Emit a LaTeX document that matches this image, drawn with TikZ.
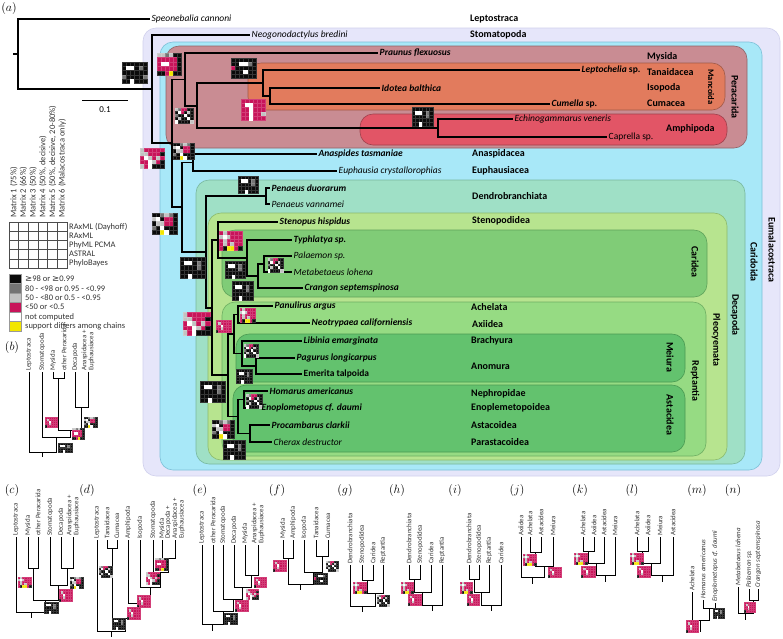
\documentclass[tikz,border=0pt]{standalone}
\usepackage{fontspec}
\setmainfont{Carlito}
\newfontfamily\symf{DejaVu Sans}
\definecolor{cK}{HTML}{0A0A0A}
\definecolor{cD}{HTML}{747474}
\definecolor{cL}{HTML}{C2C2C2}
\definecolor{cM}{HTML}{C8145A}
\definecolor{cW}{HTML}{FFFFFF}
\definecolor{cY}{HTML}{F2E600}
\def\pB{K,K,K,K,K,K,K,W,W,K,D,K,K,K,K,K,D,K,K,K,K,K,K,K,K,K,W,K,K,K}
\def\pBB{K,K,K,K,K,K,K,W,W,K,D,K,K,K,K,K,K,K,D,K,K,K,K,D,K,K,W,K,K,K}
\def\pBm{K,K,K,K,K,K,K,K,W,W,D,K,M,K,K,K,K,K,K,K,K,W,K,K,K,K,K,K,K,K}
\def\pM{L,L,D,L,K,K,M,M,M,M,M,K,M,W,W,M,M,K,M,M,M,M,M,K,K,K,M,Y,K,K}
\def\pMs{M,M,M,M,M,M,M,L,M,M,M,M,M,M,W,M,M,M,M,M,L,M,M,M,K,M,M,M,M,M}
\def\pMz{M,M,M,M,M,M,M,W,W,M,M,M,M,M,W,M,M,M,M,M,W,M,M,L,M,M,W,M,M,M}
\def\pXa{L,D,M,M,K,K,K,W,M,K,L,K,D,K,K,W,K,K,K,L,K,K,W,K,W,K,K,K,K,L}
\def\pXb{K,K,D,L,D,K,L,W,K,M,M,K,K,L,L,M,M,K,D,K,W,K,K,K,K,K,Y,W,K,K}
\def\pMg{M,L,M,M,M,M,L,W,L,M,M,M,M,L,M,M,M,M,M,L,M,L,M,M,M,K,Y,Y,M,K}
\def\pMw{L,M,M,M,M,M,L,L,M,M,M,K,M,W,L,M,L,M,M,M,W,L,M,K,L,M,W,K,K,K}
\newcommand\supbox[5]{%
  \foreach \c [count=\i from 0] in #5 {%
    \pgfmathtruncatemacro\sbcol{mod(\i,6)}%
    \pgfmathtruncatemacro\sbrow{int(\i/6)}%
    \filldraw[fill=c\c, draw=c\c!82!white, line width=0.2pt]
      ({#1+\sbcol*#3/6},{#2+\sbrow*#4/5}) rectangle ({#1+(\sbcol+1)*#3/6},{#2+(\sbrow+1)*#4/5});
  }%
}
\tikzset{
  br/.style={line width=1.4pt},
  sbr/.style={line width=0.75pt},
  sp/.style={anchor=west, inner sep=1.5pt, font=\fontsize{9.5}{10}\selectfont\itshape},
  spb/.style={sp, font=\fontsize{9.5}{10}\selectfont\bfseries\itshape},
  spr/.style={sp, font=\fontsize{9.5}{10}\selectfont},
  ord/.style={anchor=west, inner sep=0pt, font=\fontsize{10}{11}\selectfont\bfseries},
  vlab/.style={rotate=-90, inner sep=0pt, font=\fontsize{10}{11}\selectfont\bfseries},
  clade/.style={rounded corners=13pt, line width=0.6pt},
  tl/.style={rotate=90, anchor=west, inner sep=1pt, text=black!80, font=\fontsize{6.9}{5.7}\selectfont},
  tli/.style={tl, font=\fontsize{6.9}{5.7}\selectfont\itshape},
  pl/.style={inner sep=0pt, font=\fontsize{12.5}{13}\selectfont},
  lg/.style={anchor=west, inner sep=0pt, text=black!80, font=\fontsize{8.5}{9}\selectfont},
}
\begin{document}
\begin{tikzpicture}[x=1pt,y=-1pt]
\useasboundingbox (0,0) rectangle (783,638);
% ---------- clade boxes ----------
\filldraw[clade, fill={rgb,255:red,230;green,230;blue,250}, draw={rgb,255:red,208;green,208;blue,236}] (143,28) rectangle (780,476);
\filldraw[clade, fill={rgb,255:red,168;green,232;blue,248}, draw={rgb,255:red,124;green,192;blue,216}] (160,42) rectangle (762,470);
\filldraw[clade, fill={rgb,255:red,201;green,140;blue,147}, draw={rgb,255:red,142;green,100;blue,104}] (166,46) rectangle (747,148);
\filldraw[clade, fill={rgb,255:red,226;green,123;blue,93}, draw={rgb,255:red,160;green,90;blue,72}] (248,63) rectangle (725,110);
\filldraw[clade, fill={rgb,255:red,226;green,85;blue,102}, draw={rgb,255:red,160;green,64;blue,76}] (360,114) rectangle (727,145);
\filldraw[clade, fill={rgb,255:red,159;green,224;blue,198}, draw={rgb,255:red,120;green,184;blue,158}] (196,180) rectangle (745,464);
\filldraw[clade, fill={rgb,255:red,183;green,228;blue,143}, draw={rgb,255:red,140;green,186;blue,108}] (208,213) rectangle (727,460);
\filldraw[clade, fill={rgb,255:red,128;green,204;blue,119}, draw={rgb,255:red,94;green,162;blue,90}] (222,230) rectangle (707,297);
\filldraw[clade, fill={rgb,255:red,150;green,219;blue,131}, draw={rgb,255:red,110;green,174;blue,98}] (222,302) rectangle (706,456);
\filldraw[clade, fill={rgb,255:red,99;green,194;blue,110}, draw={rgb,255:red,74;green,154;blue,82}] (236,334) rectangle (685,382);
\filldraw[clade, fill={rgb,255:red,99;green,194;blue,110}, draw={rgb,255:red,74;green,154;blue,82}] (233,385) rectangle (685,452);
% clade labels
\node[vlab] (vEum) at (772,250) {Eumalacostraca};
\node[vlab] (vCar) at (754,262) {Caridoida};
\node[vlab] (vPer) at (735,97) {Peracarida};
\node[vlab, font=\fontsize{8.5}{9}\selectfont\bfseries] (vMan) at (711,87) {Mancoida};
\node[vlab] (vDec) at (735,315) {Decapoda};
\node[vlab] (vPle) at (716,340) {Pleocyemata};
\node[vlab] (vCdea) at (695,262) {Caridea};
\node[vlab] (vRep) at (695,381) {Reptantia};
\node[vlab] (vMei) at (670,357) {Meiura};
\node[vlab] (vAst) at (670,415) {Astacidea};
% ---------- main tree ----------
\coordinate (r0) at (13,54);   \coordinate (r) at (18,54);
\coordinate (tSpe) at (150,19); \coordinate (n1) at (152,89);
\coordinate (tNeo) at (250,35); \coordinate (n2) at (172,143);
\coordinate (nPer) at (185,79.5); \coordinate (tPra) at (378,53);
\coordinate (nMA) at (197,106); \coordinate (nMan) at (263,83);
\coordinate (tLep) at (580,70); \coordinate (nIC) at (270,96);
\coordinate (tIdo) at (380,88); \coordinate (tCum) at (550,104);
\coordinate (nAmp) at (438,128); \coordinate (tEch) at (513,119);
\coordinate (tCap) at (607,137);
\coordinate (nCar) at (182,207); \coordinate (nAE) at (193,162.5);
\coordinate (tAna) at (317,154); \coordinate (tEup) at (337,171);
\coordinate (nDec) at (206,252); \coordinate (nDen) at (266,196);
\coordinate (tPdu) at (270,188); \coordinate (tPva) at (270,204);
\coordinate (nPle) at (212,308); \coordinate (nSC) at (218,240);
\coordinate (tSte) at (278,222); \coordinate (nCdea) at (247,258);
\coordinate (tTyp) at (292,240); \coordinate (nPMC) at (258,276);
\coordinate (nPM) at (264,264); \coordinate (tPal) at (292,256);
\coordinate (tMet) at (292,272); \coordinate (tCra) at (303,288);
\coordinate (nRep) at (228,375); \coordinate (nAAM) at (234,334);
\coordinate (nAA) at (238,314.5); \coordinate (tPan) at (273,306);
\coordinate (tNeot) at (310,323); \coordinate (nMei) at (242,353.5);
\coordinate (tLib) at (302,341); \coordinate (nPE) at (256,366);
\coordinate (tPag) at (295,358); \coordinate (tEme) at (302,374);
\coordinate (nAst) at (238,416.5); \coordinate (nHE) at (244,399.5);
\coordinate (tHom) at (268,391); \coordinate (tEno) at (260,408);
\coordinate (nPC) at (250,433.5); \coordinate (tPro) at (270,425);
\coordinate (tChe) at (272,442);
\draw[br] (r0) -- (r);
\foreach \a/\b in {r/tSpe, r/n1, n1/tNeo, n1/n2, n2/nPer, n2/nCar,
  nPer/tPra, nPer/nMA, nMA/nMan, nMA/nAmp, nMan/tLep, nMan/nIC, nIC/tIdo, nIC/tCum,
  nAmp/tEch, nAmp/tCap, nCar/nAE, nCar/nDec, nAE/tAna, nAE/tEup,
  nDec/nDen, nDec/nPle, nDen/tPdu, nDen/tPva, nPle/nSC, nPle/nRep,
  nSC/tSte, nSC/nCdea, nCdea/tTyp, nCdea/nPMC, nPMC/nPM, nPMC/tCra, nPM/tPal, nPM/tMet,
  nRep/nAAM, nRep/nAst, nAAM/nAA, nAAM/nMei, nAA/tPan, nAA/tNeot,
  nMei/tLib, nMei/nPE, nPE/tPag, nPE/tEme, nAst/nHE, nAst/nPC,
  nHE/tHom, nHE/tEno, nPC/tPro, nPC/tChe}
  \draw[br] (\a) |- (\b);
% scale bar
\coordinate (sb1) at (82,100); \coordinate (sb2) at (128,100);
\draw[line width=0.9pt] (sb1) -- (sb2);
\node[inner sep=0pt, font=\fontsize{9}{10}\selectfont] (sbl) at (105,110) {0.1};
% ---------- support boxes main tree ----------
\supbox{122}{62}{25}{21}{\pBB}
\supbox{157}{53}{24}{22}{\pM}
\supbox{231}{58}{25}{20}{\pBm}
\supbox{241}{99}{24}{21}{\pMz}
\supbox{175}{108}{18}{15}{\pXa}
\supbox{173}{143}{21}{16}{\pXb}
\supbox{140}{148}{24}{20}{\pMw}
\supbox{412}{107}{21}{19}{\pB}
\supbox{238}{176}{20}{17}{\pB}
\supbox{152}{213}{25}{21}{\pXb}
\supbox{180}{257}{25}{21}{\pB}
\supbox{219}{231}{23}{19}{\pMg}
\supbox{225}{261}{20}{17}{\pB}
\supbox{232}{281}{21}{19}{\pB}
\supbox{268}{258}{15}{14}{\pXa}
\supbox{183}{312}{27}{23}{\pMw}
\supbox{216}{320}{15}{12}{\pMs}
\supbox{240}{308}{15}{14}{\pMg}
\supbox{244}{344}{14}{13}{\pXa}
\supbox{236}{369}{16}{14}{\pB}
\supbox{200}{381}{25}{21}{\pB}
\supbox{246}{394}{16}{14}{\pXa}
\supbox{212}{420}{22}{18}{\pXb}
\supbox{223}{440}{22}{19}{\pB}
% ---------- species labels ----------
\node[sp] (lSpe) at (tSpe) {Speonebalia cannoni};
\node[sp] (lNeo) at (tNeo) {Neogonodactylus bredini};
\node[spb] (lPra) at (tPra) {Praunus flexuosus};
\node[spb] (lLep) at (tLep) {Leptochelia\/ \upshape sp.};
\node[spb] (lIdo) at (tIdo) {Idotea balthica};
\node[spb] (lCum) at (tCum) {Cumella\/ \upshape sp.};
\node[sp] (lEch) at (tEch) {Echinogammarus veneris};
\node[spr] (lCap) at (tCap) {Caprella sp.};
\node[spb] (lAna) at (tAna) {Anaspides tasmaniae};
\node[sp] (lEup) at (tEup) {Euphausia crystallorophias};
\node[spb] (lPdu) at (tPdu) {Penaeus duorarum};
\node[sp] (lPva) at (tPva) {Penaeus vannamei};
\node[spb] (lSte) at (tSte) {Stenopus hispidus};
\node[spb] (lTyp) at (tTyp) {Typhlatya sp.};
\node[sp] (lPal) at (tPal) {Palaemon sp.};
\node[sp] (lMet) at (tMet) {Metabetaeus lohena};
\node[spb] (lCra) at (tCra) {Crangon septemspinosa};
\node[spb] (lPan) at (tPan) {Panulirus argus};
\node[spb] (lNeot) at (tNeot) {Neotrypaea californiensis};
\node[spb] (lLib) at (tLib) {Libinia emarginata};
\node[spb] (lPag) at (tPag) {Pagurus longicarpus};
\node[spb, font=\fontsize{9.5}{10}\selectfont\bfseries] (lEme) at (tEme) {Emerita talpoida};
\node[spb] (lHom) at (tHom) {Homarus americanus};
\node[spb] (lEno) at (tEno) {Enoplometopus cf. daumi};
\node[spb] (lPro) at (tPro) {Procambarus clarkii};
\node[sp] (lChe) at (tChe) {Cherax destructor};
% ---------- order labels ----------
\node[ord] (oLep) at (470,19) {Leptostraca};
\node[ord] (oSto) at (470,35) {Stomatopoda};
\node[ord] (oMys) at (647,57) {Mysida};
\node[ord] (oTan) at (647,72) {Tanaidacea};
\node[ord] (oIso) at (647,88) {Isopoda};
\node[ord] (oCum) at (647,103) {Cumacea};
\node[ord] (oAmp) at (666,129) {Amphipoda};
\node[ord] (oAna) at (472,154) {Anaspidacea};
\node[ord] (oEup) at (472,171) {Euphausiacea};
\node[ord] (oDen) at (472,196) {Dendrobranchiata};
\node[ord] (oSte) at (472,221) {Stenopodidea};
\node[ord] (oAch) at (471,307) {Achelata};
\node[ord] (oAxi) at (472,324) {Axiidea};
\node[ord] (oBra) at (471,341) {Brachyura};
\node[ord] (oAno) at (471,366) {Anomura};
\node[ord] (oNep) at (471,394) {Nephropidae};
\node[ord] (oEnp) at (471,408) {Enoplemetopoidea};
\node[ord] (oAsc) at (471,425) {Astacoidea};
\node[ord] (oPar) at (471,442) {Parastacoidea};
% ---------- legend ----------
\node[pl] (pa) at (9,8) {$(a)$};
\foreach \t [count=\k from 0] in {Matrix 1 (75\%), Matrix 2 (66\%), Matrix 3 (50\%), {Matrix 4 (50\%, decisive)}, {Matrix 5 (50\%, decisive, 20-80\%)}, Matrix 6 (Malacostraca only)}
  \node[lg, rotate=90] (mh\k) at ({13.8+\k*9.67},218) {\t};
\foreach \k in {0,...,5} \foreach \j in {0,...,4}
  \draw[black!70, line width=0.5pt] ({9+\k*9.67},{222+\j*9.2}) rectangle ++(9.67,9.2);
\foreach \t [count=\j from 0] in {RAxML (Dayhoff), RAxML, PhyML PCMA, ASTRAL, PhyloBayes}
  \node[lg] (rl\j) at (69,{226.6+\j*9.2}) {\t};
\foreach \cl/\t [count=\j from 0] in {cK/{{\symf ≥}98 or {\symf ≥}0.99}, cD/{80 - <98 or 0.95 - <0.99}, cL/{50 - <80 or 0.5 - <0.95}, cM/{<50 or <0.5}, cW/{not computed}, cY/{support differs among chains}} {
  \filldraw[fill=\cl, draw=black!40, line width=0.3pt] (9,{274+\j*9.5}) rectangle (21,{283.5+\j*9.5});
  \node[lg] (cl\j) at (25,{278.75+\j*9.5}) {\t};
}
% ---------- panel (b) ----------
\node[pl] (pb) at (12,347) {$(b)$};
\coordinate (bLe) at (29,372); \coordinate (bSt) at (42,372); \coordinate (bMy) at (53,372);
\coordinate (bOP) at (64,372); \coordinate (bDe) at (75,372); \coordinate (bAE) at (88,372);
\coordinate (bMO) at (58.5,378); \coordinate (bDA) at (81.5,407); \coordinate (bPC) at (70,430);
\coordinate (bSR) at (56,437); \coordinate (bR) at (42.5,452); \coordinate (bS) at (42.5,457);
\foreach \a/\b in {bMy/bMO, bOP/bMO, bDe/bDA, bAE/bDA, bMO/bPC, bDA/bPC, bSt/bSR, bPC/bSR, bLe/bR, bSR/bR}
  \draw[sbr] (\a) |- (\b);
\draw[sbr] (bR) -- (bS);
\node[tl] (xb1) at (bLe) {Leptostraca};
\node[tl] (xb2) at (bSt) {Stomatopoda};
\node[tl] (xb3) at (bMy) {Mysida};
\node[tl] (xb4) at (bOP) {other Peracarida};
\node[tl] (xb5) at (bDe) {Decapoda};
\node[tl, align=left] (xb6) at (bAE) {Anaspidacea +\\Euphausiacea};
\supbox{45}{417}{12}{10}{\pMs}
\supbox{72}{428}{12}{11}{\pM}
\supbox{84}{417}{13}{10}{\pXb}
\supbox{58}{443}{14}{9}{\pB}
% ---------- panel (c) ----------
\node[pl] (pc) at (12,490) {$(c)$};
\coordinate (cLe) at (16,537); \coordinate (cMy) at (28,537); \coordinate (cOP) at (38,537);
\coordinate (cSt) at (50,537); \coordinate (cDe) at (61,537); \coordinate (cAE) at (73,537);
\coordinate (cMO) at (33,568); \coordinate (cDA) at (67,568); \coordinate (cSD) at (58.5,585);
\coordinate (cX) at (45.75,600); \coordinate (cR) at (30.9,612); \coordinate (cS) at (30.9,618);
\foreach \a/\b in {cMy/cMO, cOP/cMO, cDe/cDA, cAE/cDA, cSt/cSD, cDA/cSD, cMO/cX, cSD/cX, cLe/cR, cX/cR}
  \draw[sbr] (\a) |- (\b);
\draw[sbr] (cR) -- (cS);
\node[tl] (xc1) at (cLe) {Leptostraca};
\node[tl] (xc2) at (cMy) {Mysida};
\node[tl] (xc3) at (cOP) {other Peracarida};
\node[tl] (xc4) at (cSt) {Stomatopoda};
\node[tl] (xc5) at (cDe) {Decapoda};
\node[tl, align=left] (xc6) at (cAE) {Anaspidacea +\\Euphausiacea};
\supbox{18}{577}{13}{10}{\pMg}
\supbox{70}{577}{13}{11}{\pXb}
\supbox{59}{589}{13}{12}{\pMs}
\supbox{44}{602}{14}{11}{\pB}
% ---------- panel (d) ----------
\node[pl] (pd) at (87,490) {$(d)$};
\coordinate (dLe) at (97,540); \coordinate (dTa) at (107,540); \coordinate (dCu) at (117,540);
\coordinate (dAm) at (128,540); \coordinate (dIs) at (140,540); \coordinate (dSt) at (153,540);
\coordinate (dMy) at (162,540); \coordinate (dDA) at (175,540);
\coordinate (dTC) at (112,548); \coordinate (dMD) at (168.5,558); \coordinate (dS) at (160.75,572);
\coordinate (dI) at (150.4,587); \coordinate (dA) at (139.2,603); \coordinate (dTCA) at (125.6,618);
\coordinate (dR) at (111.3,631); \coordinate (dSS) at (111.3,637);
\foreach \a/\b in {dTa/dTC, dCu/dTC, dMy/dMD, dDA/dMD, dSt/dS, dMD/dS, dIs/dI, dS/dI, dAm/dA, dI/dA, dTC/dTCA, dA/dTCA, dLe/dR, dTCA/dR}
  \draw[sbr] (\a) |- (\b);
\draw[sbr] (dR) -- (dSS);
\node[tl] (xd1) at (dLe) {Leptostraca};
\node[tl] (xd2) at (dTa) {Tanaidacea};
\node[tl] (xd3) at (dCu) {Cumacea};
\node[tl] (xd4) at (dAm) {Amphipoda};
\node[tl] (xd5) at (dIs) {Isopoda};
\node[tl] (xd6) at (dSt) {Stomatopoda};
\node[tl] (xd7) at (dMy) {Mysida};
\node[tl, align=left] (xd8) at (dDA) {Decapoda +\\Anaspidacea +\\Euphausiacea};
\supbox{99}{566}{13}{11}{\pXa}
\supbox{155}{558}{13}{12}{\pM}
\supbox{146}{572}{13}{12}{\pMw}
\supbox{137}{595}{13}{12}{\pMs}
\supbox{127}{607}{13}{12}{\pMs}
\supbox{112}{618}{13}{11}{\pB}
% ---------- panel (e) ----------
\node[pl] (pe) at (200,490) {$(e)$};
\coordinate (eLe) at (202,545); \coordinate (eOP) at (213,545); \coordinate (eSt) at (223,545);
\coordinate (eDe) at (234,545); \coordinate (eMy) at (245,545); \coordinate (eAE) at (258,545);
\coordinate (eMA) at (251.5,575); \coordinate (eD) at (242.75,587); \coordinate (eS) at (232.9,599);
\coordinate (eO) at (222.9,611); \coordinate (eR) at (212.5,624); \coordinate (eSS) at (212.5,631);
\foreach \a/\b in {eMy/eMA, eAE/eMA, eDe/eD, eMA/eD, eSt/eS, eD/eS, eOP/eO, eS/eO, eLe/eR, eO/eR}
  \draw[sbr] (\a) |- (\b);
\draw[sbr] (eR) -- (eSS);
\node[tl] (xe1) at (eLe) {Leptostraca};
\node[tl] (xe2) at (eOP) {other Peracarida};
\node[tl] (xe3) at (eSt) {Stomatopoda};
\node[tl] (xe4) at (eDe) {Decapoda};
\node[tl] (xe5) at (eMy) {Mysida};
\node[tl, align=left] (xe6) at (eAE) {Anaspidacea +\\Euphausiacea};
\supbox{254}{577}{12}{10}{\pMs}
\supbox{246}{589}{12}{10}{\pMw}
\supbox{235}{600}{13}{11}{\pMs}
\supbox{224}{613}{13}{11}{\pB}
% ---------- panel (f) ----------
\node[pl] (pf) at (277,490) {$(f)$};
\coordinate (fMy) at (283,540); \coordinate (fAm) at (293,540); \coordinate (fIs) at (304,540);
\coordinate (fTa) at (316,540); \coordinate (fCu) at (328,540);
\coordinate (fMA) at (288,558); \coordinate (fTC) at (322,556); \coordinate (fI) at (313,572);
\coordinate (fR) at (300.5,584); \coordinate (fS) at (300.5,590);
\foreach \a/\b in {fMy/fMA, fAm/fMA, fTa/fTC, fCu/fTC, fIs/fI, fTC/fI, fMA/fR, fI/fR}
  \draw[sbr] (\a) |- (\b);
\draw[sbr] (fR) -- (fS);
\node[tl] (xf1) at (fMy) {Mysida};
\node[tl] (xf2) at (fAm) {Amphipoda};
\node[tl] (xf3) at (fIs) {Isopoda};
\node[tl] (xf4) at (fTa) {Tanaidacea};
\node[tl] (xf5) at (fCu) {Cumacea};
\supbox{273}{560}{13}{11}{\pMs}
\supbox{326}{561}{12}{10}{\pXa}
\supbox{314}{573}{13}{11}{\pBm}
% ---------- panel (g) ----------
\node[pl] (pg) at (345,490) {$(g)$};
\coordinate (gDe) at (350,565); \coordinate (gSt) at (362,565); \coordinate (gCa) at (373,565); \coordinate (gRe) at (383,565);
\coordinate (gSC) at (367.5,580); \coordinate (gSR) at (375.25,593); \coordinate (gR) at (362.6,606); \coordinate (gS) at (362.6,612);
\foreach \a/\b in {gSt/gSC, gCa/gSC, gSC/gSR, gRe/gSR, gDe/gR, gSR/gR}
  \draw[sbr] (\a) |- (\b);
\draw[sbr] (gR) -- (gS);
\node[tl] (xg1) at (gDe) {Dendrobranchiata};
\node[tl] (xg2) at (gSt) {Stenopodidea};
\node[tl] (xg3) at (gCa) {Caridea};
\node[tl] (xg4) at (gRe) {Reptantia};
\supbox{353}{582}{13}{11}{\pMg}
\supbox{377}{595}{12}{11}{\pXa}
% ---------- panel (h) ----------
\node[pl] (ph) at (397,490) {$(h)$};
\coordinate (hDe) at (409,565); \coordinate (hSt) at (420,565); \coordinate (hCa) at (431,565); \coordinate (hRe) at (442,565);
\coordinate (hDS) at (414.5,579); \coordinate (hC) at (422.75,592); \coordinate (hR) at (432.4,605); \coordinate (hS) at (432.4,611);
\foreach \a/\b in {hDe/hDS, hSt/hDS, hDS/hC, hCa/hC, hC/hR, hRe/hR}
  \draw[sbr] (\a) |- (\b);
\draw[sbr] (hR) -- (hS);
\node[tl] (xh1) at (hDe) {Dendrobranchiata};
\node[tl] (xh2) at (hSt) {Stenopodidea};
\node[tl] (xh3) at (hCa) {Caridea};
\node[tl] (xh4) at (hRe) {Reptantia};
\supbox{401}{582}{12}{11}{\pMg}
\supbox{408}{594}{13}{11}{\pMs}
% ---------- panel (i) ----------
\node[pl] (pi) at (455,490) {$(i)$};
\coordinate (iDe) at (469,565); \coordinate (iSt) at (479,565); \coordinate (iRe) at (489,565); \coordinate (iCa) at (501,565);
\coordinate (iDS) at (474,579); \coordinate (iC) at (481.5,592); \coordinate (iR) at (491.25,605); \coordinate (iS) at (491.25,611);
\foreach \a/\b in {iDe/iDS, iSt/iDS, iDS/iC, iRe/iC, iC/iR, iCa/iR}
  \draw[sbr] (\a) |- (\b);
\draw[sbr] (iR) -- (iS);
\node[tl] (xi1) at (iDe) {Dendrobranchiata};
\node[tl] (xi2) at (iSt) {Stenopodidea};
\node[tl] (xi3) at (iRe) {Reptantia};
\node[tl] (xi4) at (iCa) {Caridea};
\supbox{460}{582}{12}{11}{\pMg}
\supbox{467}{594}{12}{11}{\pMs}
% ---------- panel (j) ----------
\node[pl] (pj) at (517,490) {$(j)$};
\coordinate (jAx) at (521,537); \coordinate (jAc) at (530,537); \coordinate (jAs) at (541,537); \coordinate (jMe) at (553,537);
\coordinate (jAA) at (535.5,552); \coordinate (jM) at (544.25,566); \coordinate (jR) at (532.6,577); \coordinate (jS) at (532.6,584);
\foreach \a/\b in {jAc/jAA, jAs/jAA, jAA/jM, jMe/jM, jAx/jR, jM/jR}
  \draw[sbr] (\a) |- (\b);
\draw[sbr] (jR) -- (jS);
\node[tl] (xj1) at (jAx) {Axiidea};
\node[tl] (xj2) at (jAc) {Achelata};
\node[tl] (xj3) at (jAs) {Astacidea};
\node[tl] (xj4) at (jMe) {Meiura};
\supbox{523}{554}{13}{11}{\pMg}
\supbox{548}{567}{13}{10}{\pMs}
% ---------- panel (k) ----------
\node[pl] (pk) at (580,490) {$(k)$};
\coordinate (kAc) at (583,537); \coordinate (kAx) at (594,537); \coordinate (kAs) at (604,537); \coordinate (kMe) at (615,537);
\coordinate (kAA) at (588.5,551); \coordinate (kS1) at (596.25,563); \coordinate (kR) at (605.6,575); \coordinate (kS) at (605.6,582);
\foreach \a/\b in {kAc/kAA, kAx/kAA, kAA/kS1, kAs/kS1, kS1/kR, kMe/kR}
  \draw[sbr] (\a) |- (\b);
\draw[sbr] (kR) -- (kS);
\node[tl] (xk1) at (kAc) {Achelata};
\node[tl] (xk2) at (kAx) {Axiidea};
\node[tl] (xk3) at (kAs) {Astacidea};
\node[tl] (xk4) at (kMe) {Meiura};
\supbox{574}{553}{13}{11}{\pMg}
\supbox{581}{566}{14}{11}{\pMs}
% ---------- panel (l) ----------
\node[pl] (pll) at (632,490) {$(l)$};
\coordinate (lAc) at (637,537); \coordinate (lAx) at (648,537); \coordinate (lMe) at (660,537); \coordinate (lAs) at (673,537);
\coordinate (lAA) at (642.5,551); \coordinate (lM) at (651.25,563); \coordinate (lR) at (662.1,575); \coordinate (lS) at (662.1,582);
\foreach \a/\b in {lAc/lAA, lAx/lAA, lAA/lM, lMe/lM, lM/lR, lAs/lR}
  \draw[sbr] (\a) |- (\b);
\draw[sbr] (lR) -- (lS);
\node[tl] (xl1) at (lAc) {Achelata};
\node[tl] (xl2) at (lAx) {Axiidea};
\node[tl] (xl3) at (lMe) {Meiura};
\node[tl] (xl4) at (lAs) {Astacidea};
\supbox{630}{553}{13}{11}{\pMg}
\supbox{637}{566}{13}{11}{\pMs}
% ---------- panel (m) ----------
\node[pl] (pm) at (697,490) {$(m)$};
\coordinate (mAc) at (692,592); \coordinate (mHo) at (703,600); \coordinate (mEn) at (715,603);
\coordinate (mHE) at (709,608); \coordinate (mR) at (700.5,620); \coordinate (mS) at (700.5,632);
\foreach \a/\b in {mHo/mHE, mEn/mHE, mAc/mR, mHE/mR}
  \draw[sbr] (\a) |- (\b);
\draw[sbr] (mR) -- (mS);
\node[tl] (xm1) at (mAc) {Achelata};
\node[tli] (xm2) at (mHo) {Homarus americanus};
\node[tli] (xm3) at (mEn) {Enoplometopus cf. daumi};
\supbox{713}{608}{11}{10}{\pB}
\supbox{686}{620}{12}{12}{\pMs}
% ---------- panel (n) ----------
\node[pl] (pn) at (733,490) {$(n)$};
\coordinate (nMe) at (738,587); \coordinate (nPa) at (749,589); \coordinate (nCr) at (758,589);
\coordinate (nPCq) at (753.5,600); \coordinate (nRq) at (745.75,613); \coordinate (nSq) at (745.75,620);
\foreach \a/\b in {nPa/nPCq, nCr/nPCq, nMe/nRq, nPCq/nRq}
  \draw[sbr] (\a) |- (\b);
\draw[sbr] (nRq) -- (nSq);
\node[tli] (xn1) at (nMe) {Metabetaeus lohena};
\node[tli] (xn2) at (nPa) {Palaemon sp.};
\node[tli] (xn3) at (nCr) {Crangon septemspinosa};
\supbox{744}{602}{11}{10}{\pMs}
\end{tikzpicture}
\end{document}
